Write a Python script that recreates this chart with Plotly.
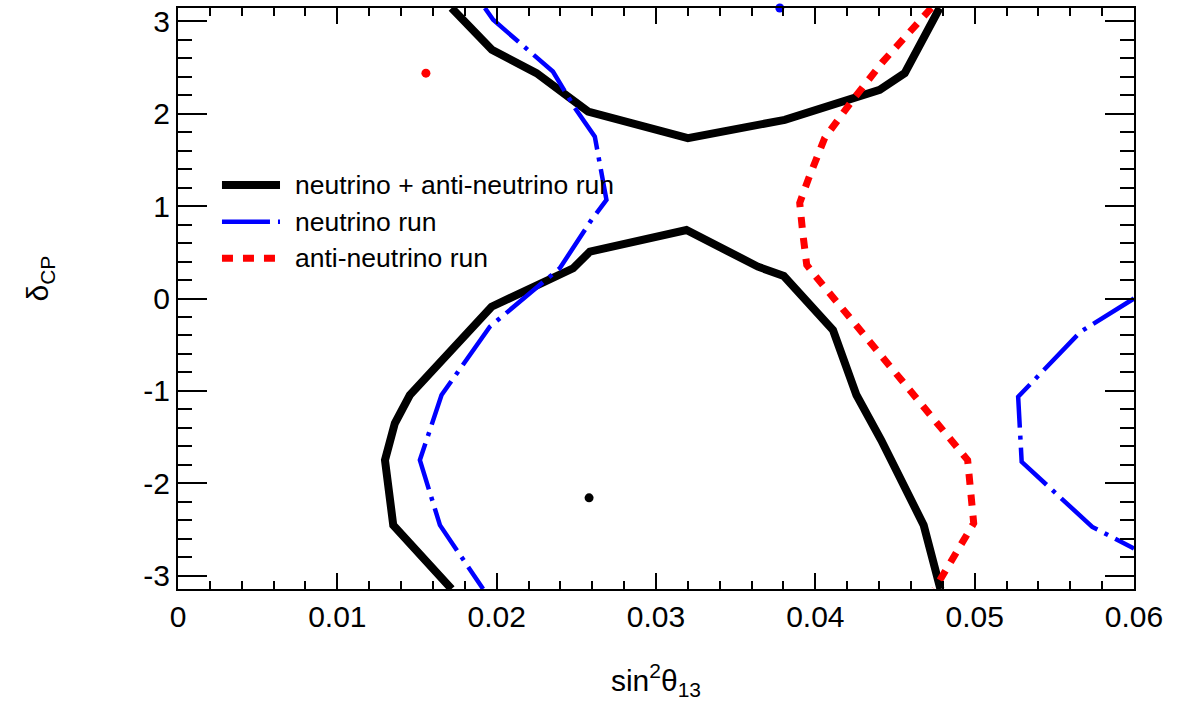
import math
import plotly.graph_objects as go

PI = math.pi

# Combined neutrino + anti-neutrino run contour (two branches)
comb_upper_x = [0.01717, 0.01970, 0.02250, 0.02574, 0.03200, 0.03808, 0.04404, 0.04561, 0.04780]
comb_upper_y = [PI, 2.69, 2.437, 2.022, 1.734, 1.932, 2.256, 2.437, PI]
comb_lower_x = [0.01717, 0.01351, 0.01299, 0.01361, 0.01455, 0.01821, 0.01968, 0.02480, 0.02585,
                0.03191, 0.03640, 0.03802, 0.04111, 0.04258, 0.04413, 0.04680, 0.04785]
comb_lower_y = [-PI, -2.451, -1.748, -1.350, -1.044, -0.359, -0.089, 0.327, 0.506,
                0.741, 0.344, 0.244, -0.341, -1.044, -1.531, -2.451, -PI]

# Neutrino-only run contour
nu_left_x = [0.01926, 0.01978, 0.02353, 0.02491, 0.02616, 0.02689, 0.02595, 0.02459, 0.02396,
             0.02208, 0.01957, 0.01654, 0.01518, 0.01644, 0.01915]
nu_left_y = [PI, 3.014, 2.454, 2.061, 1.750, 1.066, 0.850, 0.493, 0.327,
             0.056, -0.305, -1.044, -1.748, -2.451, -PI]
nu_right_x = [0.06000, 0.05665, 0.05273, 0.05295, 0.05738, 0.06000]
nu_right_y = [0.0, -0.359, -1.063, -1.766, -2.470, -2.703]

# Anti-neutrino-only run contour
anu_x = [0.04728, 0.04423, 0.04235, 0.04059, 0.03959, 0.03902, 0.03921, 0.03946, 0.03990,
         0.04956, 0.04994, 0.04749]
anu_y = [PI, 2.560, 2.148, 1.737, 1.304, 1.034, 0.709, 0.363, 0.265,
         -1.748, -2.430, -PI]

# Best-fit points
best_comb = (0.02580, -2.156)
best_nu = (0.03777, PI)
best_anu = (0.01556, 2.437)

x_ticks = [0, 0.01, 0.02, 0.03, 0.04, 0.05, 0.06]
x_labels = ["0", "0.01", "0.02", "0.03", "0.04", "0.05", "0.06"]
y_ticks = [-3, -2, -1, 0, 1, 2, 3]
y_labels = ["-3", "-2", "-1", "0", "1", "2", "3"]

legend_labels = ["neutrino + anti-neutrino run", "neutrino run", "anti-neutrino run"]

BLACK = "#000000"
BLUE = "#0000ff"
RED = "#ff0000"
BLUE_DASH = "48px,8px,4px,8px"
RED_DASH = "11px,10px"
FONT = "Liberation Sans, Arial, sans-serif"

fig = go.Figure()

for xs, ys in [(comb_upper_x, comb_upper_y), (comb_lower_x, comb_lower_y)]:
    fig.add_trace(go.Scatter(x=xs, y=ys, mode="lines",
                             line=dict(color=BLACK, width=8), showlegend=False))
for xs, ys in [(nu_left_x, nu_left_y), (nu_right_x, nu_right_y)]:
    fig.add_trace(go.Scatter(x=xs, y=ys, mode="lines",
                             line=dict(color=BLUE, width=4.5, dash=BLUE_DASH), showlegend=False))
fig.add_trace(go.Scatter(x=anu_x, y=anu_y, mode="lines",
                         line=dict(color=RED, width=7, dash=RED_DASH), showlegend=False))

for (bx, by), col in [(best_comb, BLACK), (best_nu, BLUE), (best_anu, RED)]:
    fig.add_trace(go.Scatter(x=[bx], y=[by], mode="markers", cliponaxis=False,
                             marker=dict(color=col, size=9), showlegend=False))

# Legend block drawn in paper coordinates
leg_styles = [dict(color=BLACK, width=8), dict(color=BLUE, width=4.5, dash=BLUE_DASH),
              dict(color=RED, width=7, dash=RED_DASH)]
leg_rows = [0.6954, 0.6322, 0.5692]
for label, style, yy in zip(legend_labels, leg_styles, leg_rows):
    fig.add_shape(type="line", xref="paper", yref="paper", x0=0.046, x1=0.1067,
                  y0=yy, y1=yy, line=style)
    fig.add_annotation(xref="paper", yref="paper", x=0.1203, y=yy, text=label,
                       showarrow=False, xanchor="left", yanchor="middle",
                       font=dict(family=FONT, size=26.5, color="black"))

# Vertical axis title
fig.add_annotation(xref="paper", yref="paper", x=-0.145, y=0.535, text="δ<sub>CP</sub>",
                   textangle=-90, showarrow=False, xanchor="center", yanchor="middle",
                   font=dict(family=FONT, size=30, color="black"))

axis_common = dict(showline=True, linewidth=2, linecolor="black", mirror="ticks",
                   ticks="inside", tickcolor="black", tickwidth=1.5,
                   showgrid=False, zeroline=False,
                   tickfont=dict(family=FONT, size=30, color="black"))

fig.update_xaxes(range=[0, 0.06], tickvals=x_ticks, ticktext=x_labels, ticklen=16,
                 minor=dict(dtick=0.002, tick0=0, ticks="inside", ticklen=8,
                            tickcolor="black", tickwidth=1.5, showgrid=False),
                 title=dict(text="sin<sup>2</sup>θ<sub>13</sub>", standoff=38,
                            font=dict(family=FONT, size=30, color="black")),
                 **axis_common)
fig.update_yaxes(range=[-PI, PI], tickvals=y_ticks, ticktext=y_labels, ticklen=29,
                 minor=dict(dtick=0.2, tick0=0, ticks="inside", ticklen=14,
                            tickcolor="black", tickwidth=1.5, showgrid=False),
                 **axis_common)

fig.update_layout(width=1181, height=704, plot_bgcolor="white", paper_bgcolor="white",
                  margin=dict(l=178, r=47, t=8, b=115, autoexpand=False),
                  showlegend=False)

fig.write_html("out.html")
